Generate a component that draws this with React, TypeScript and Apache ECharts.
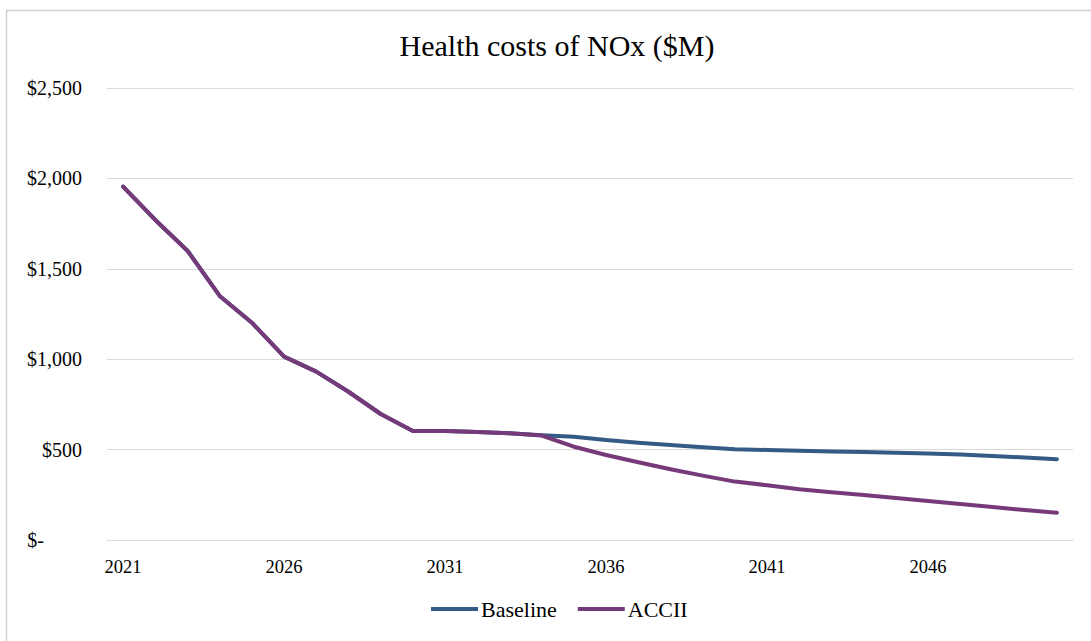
import React, { useEffect, useRef } from "react";
import * as echarts from "echarts";

const years: string[] = [
  "2021", "2022", "2023", "2024", "2025", "2026", "2027", "2028", "2029", "2030",
  "2031", "2032", "2033", "2034", "2035", "2036", "2037", "2038", "2039", "2040",
  "2041", "2042", "2043", "2044", "2045", "2046", "2047", "2048", "2049", "2050",
];

const baseline: number[] = [
  1955, 1770, 1600, 1350, 1202, 1014, 931, 820, 697, 603,
  603, 597, 590, 580, 571, 553, 538, 525, 513, 502,
  498, 493, 490, 487, 483, 479, 473, 465, 456, 447,
];

const accii: number[] = [
  1955, 1770, 1600, 1350, 1202, 1014, 931, 820, 697, 603,
  603, 597, 590, 578, 516, 470, 430, 391, 356, 323,
  303, 281, 264, 249, 232, 216, 199, 182, 166, 151,
];

const seriesNames = ["Baseline", "ACCII"];
const colors = ["#335B85", "#763A7A"];
const titleText = "Health costs of NOx ($M)";

const FONT = "'Liberation Serif', 'DejaVu Serif', serif";

export default function App() {
  const ref = useRef<HTMLDivElement>(null);
  useEffect(() => {
    if (!ref.current) return;
    const chart = echarts.init(ref.current, undefined, { renderer: "svg" });
    chart.setOption({
      animation: false,
      backgroundColor: "#ffffff",
      textStyle: { fontFamily: FONT },
      title: {
        text: titleText,
        left: 552,
        top: 25,
        textAlign: "center",
        textStyle: { fontFamily: FONT, fontSize: 30, fontWeight: "normal", color: "#000" },
      },
      graphic: [
        {
          type: "polyline",
          shape: { points: [[6.5, 641], [6.5, 10.5], [1091, 10.5]] },
          style: { stroke: "#d0d0d0", lineWidth: 1.5, fill: "none" },
          silent: true,
        },
      ],
      legend: {
        data: seriesNames,
        left: 426,
        top: 593,
        icon: "rect",
        itemWidth: 47,
        itemHeight: 4,
        itemGap: 21,
        textStyle: { fontFamily: FONT, fontSize: 22, color: "#000", padding: [0, 0, 0, -2] },
      },
      grid: { left: 107, right: 18, top: 88, bottom: 101, containLabel: false },
      xAxis: {
        type: "category",
        data: years,
        boundaryGap: true,
        axisLine: { show: true, lineStyle: { color: "#d9d9d9", width: 1 } },
        axisTick: { show: false },
        axisLabel: {
          interval: 4,
          margin: 17,
          fontFamily: FONT,
          fontSize: 18.5,
          color: "#000",
        },
        splitLine: { show: false },
      },
      yAxis: {
        type: "value",
        min: 0,
        max: 2500,
        interval: 500,
        axisLine: { show: false },
        axisTick: { show: false },
        splitLine: { lineStyle: { color: "#d9d9d9", width: 1 } },
        axisLabel: {
          margin: 25,
          fontFamily: FONT,
          fontSize: 20,
          color: "#000",
          formatter: (v: number) =>
            v === 0 ? "{z|$-}" : "$" + v.toLocaleString("en-US"),
          rich: {
            z: { fontFamily: FONT, fontSize: 20, color: "#000", padding: [0, 38, 0, 0] },
          },
        },
      },
      series: [
        {
          name: seriesNames[0],
          type: "line",
          data: baseline,
          showSymbol: false,
          symbol: "none",
          color: colors[0],
          lineStyle: { width: 4, color: colors[0], cap: "round", join: "round" },
          z: 2,
        },
        {
          name: seriesNames[1],
          type: "line",
          data: accii,
          showSymbol: false,
          symbol: "none",
          color: colors[1],
          lineStyle: { width: 4, color: colors[1], cap: "round", join: "round" },
          z: 3,
        },
      ],
    });
    return () => chart.dispose();
  }, []);
  return (
    <div
      ref={ref}
      style={{ position: "fixed", left: 0, top: 0, width: 1091, height: 641 }}
    />
  );
}
